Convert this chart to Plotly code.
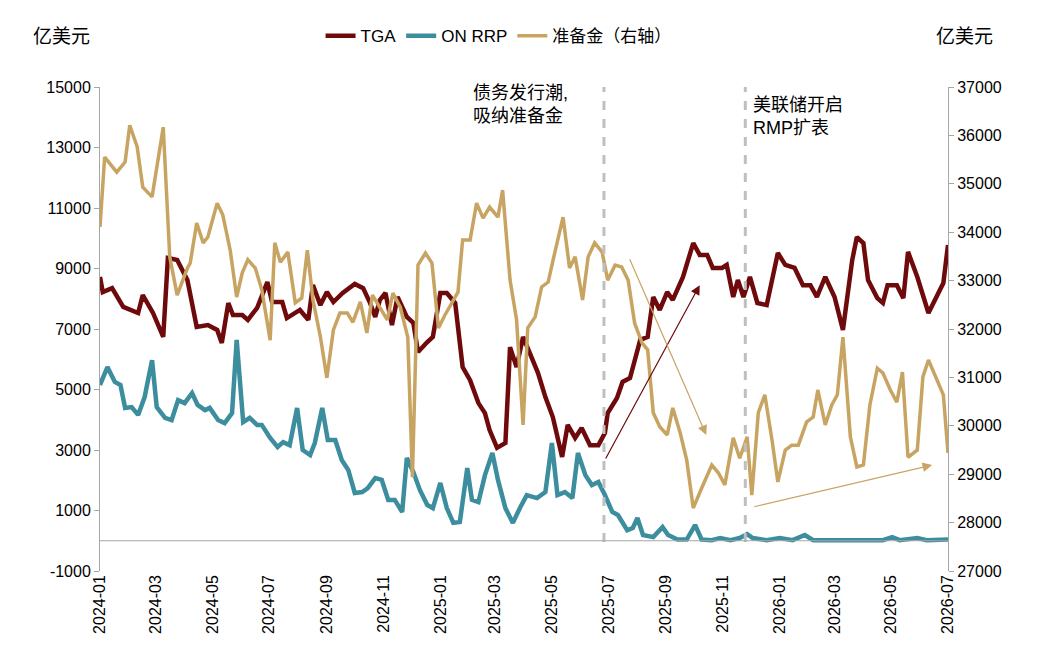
import pandas as pd
import plotly.graph_objects as go

BASE = pd.Timestamp("2024-01-01")

# day offsets from 2024-01-01 and values (亿美元)
tga_days = [0,3,13,25,41,46,57,68,73,83,94,104,116,126,131,138,143,153,159,169,180,185,196,201,215,224,229,237,244,251,261,274,283,290,296,301,307,314,320,330,337,342,352,358,366,373,382,390,398,407,414,419,427,436,441,448,455,462,471,479,487,497,503,511,518,527,536,543,546,556,562,570,581,589,595,602,610,616,627,638,645,653,659,669,674,681,686,692,699,707,717,729,737,747,756,764,771,780,790,799,809,814,821,826,836,842,847,857,864,869,879,891,903,907,912]
tga_vals = [8720,8220,8350,7730,7530,8120,7530,6740,9350,9280,8620,7070,7130,6970,6540,7860,7460,7460,7300,7700,8550,7890,7890,7360,7630,7300,8450,7790,8220,7890,8190,8490,8350,7890,7400,7960,8190,7130,8060,7400,7200,6240,6570,6740,8190,8190,7860,5740,5310,4550,4220,3660,3070,3230,6400,5740,6740,6210,5550,4750,4090,2770,3830,3400,3730,3160,3160,3560,4220,4720,5250,5380,6640,6740,8060,7630,8220,7960,8720,9840,9450,9450,9020,9020,9120,8060,8620,8060,8720,7860,7790,9510,9120,9020,8450,8450,8060,8720,8060,6970,9280,10040,9840,8620,8020,7860,8450,8450,8020,9550,8720,7530,8220,8520,9780]

rrp_days = [0,8,16,22,27,34,41,48,56,61,70,77,84,91,99,105,113,118,127,134,142,147,154,161,169,174,183,191,197,204,212,218,226,231,239,245,253,260,267,274,282,288,296,303,310,317,325,330,337,344,352,358,366,373,380,387,395,400,407,414,422,428,436,444,452,459,470,479,486,492,500,508,514,522,529,536,543,551,557,567,573,578,584,595,605,611,621,631,640,647,658,667,678,688,696,702,717,731,745,758,767,810,842,852,860,879,889,912]
rrp_vals = [5150,5740,5250,5150,4390,4420,4160,4750,5970,4420,4060,3990,4650,4550,4880,4490,4320,4390,3990,3890,4220,6640,3920,4060,3830,3830,3400,3100,3260,3160,4390,3000,2830,3230,4390,3330,3330,2670,2340,1580,1610,1740,2070,2010,1350,1350,950,2740,2270,1680,1180,1080,1910,1080,590,620,2400,1350,1280,2170,2900,2010,1080,590,1110,1510,1410,1610,3230,1510,1610,1410,2900,2170,1840,1940,1510,950,850,350,420,750,190,120,450,190,40,40,520,40,20,90,20,90,220,90,20,90,20,190,20,20,20,120,20,90,20,40]

res_days = [0,5,18,27,32,40,46,56,68,75,83,94,97,104,111,116,126,132,140,147,153,159,167,174,183,188,194,202,210,217,223,229,237,244,251,258,266,272,280,287,293,299,309,315,323,331,336,342,350,357,364,371,379,385,390,398,405,412,419,428,433,441,448,455,460,468,475,482,489,498,505,511,519,525,532,540,546,554,561,568,575,583,589,595,602,610,616,624,631,638,647,658,665,672,681,688,696,701,708,715,723,729,737,744,751,760,767,772,780,787,793,799,807,814,821,828,836,842,850,857,863,869,879,885,891,900,907,912]
res_vals = [34110,35550,35240,35450,36210,35760,34930,34730,36170,33490,32700,33260,33360,34190,33780,33900,34600,34360,33630,32660,33160,33430,33260,32810,31770,33780,33380,33590,32540,32640,33630,32600,31840,30990,31980,32330,32330,32140,32560,31920,32700,32500,32190,32740,32450,31830,28940,33320,33570,33360,32020,32290,32540,32760,33840,33840,34600,34290,34520,34310,34870,33010,32190,30020,32020,32250,32870,32970,33570,34310,33260,33490,32600,33490,33780,33590,33010,33320,33280,33010,32120,31710,31570,30270,29980,29810,30370,29850,29290,28300,28710,29190,29030,28780,29750,29330,29770,28570,30270,30640,29670,28840,29500,29600,29600,30080,30180,30740,30020,30430,30640,31830,29770,29150,29190,30430,31190,31090,30740,30490,31110,29350,29500,31010,31360,30950,30640,29440]

left_ticks = list(range(-1000, 15001, 2000))
right_ticks = list(range(27000, 37001, 1000))

def to_dates(days):
    return [BASE + pd.Timedelta(days=d) for d in days]

C_TGA = "#6E0A0C"
C_RRP = "#3C8D9E"
C_RES = "#C8A463"
FONT = "Liberation Sans, Noto Sans CJK SC, sans-serif"

fig = go.Figure()
fig.add_trace(go.Scatter(x=to_dates(tga_days), y=tga_vals, name="TGA", mode="lines",
                         line=dict(color=C_TGA, width=4.5)))
fig.add_trace(go.Scatter(x=to_dates(rrp_days), y=rrp_vals, name="ON RRP", mode="lines",
                         line=dict(color=C_RRP, width=4.5)))
fig.add_trace(go.Scatter(x=to_dates(res_days), y=res_vals, name="准备金（右轴）", mode="lines",
                         line=dict(color=C_RES, width=3.5), yaxis="y2"))

for d in ["2025-06-26", "2025-11-25"]:
    fig.add_shape(type="line", xref="x", yref="paper", x0=d, x1=d, y0=0.06, y1=1,
                  line=dict(color="#BFBFBF", width=3, dash="dash"))
fig.add_shape(type="line", xref="paper", yref="y", x0=0, x1=1, y0=0, y1=0,
              line=dict(color="#A6A6A6", width=1))

fig.add_annotation(x="2025-10-07", y=8450, ax="2025-06-27", ay=2670, xref="x", yref="y",
                   axref="x", ayref="y", showarrow=True, arrowhead=2, arrowsize=1.6,
                   arrowwidth=1.2, arrowcolor=C_TGA, text="")
fig.add_annotation(x="2025-10-14", y=29810, ax="2025-07-23", ay=33470, xref="x", yref="y2",
                   axref="x", ayref="y2", showarrow=True, arrowhead=2, arrowsize=1.6,
                   arrowwidth=1.2, arrowcolor=C_RES, text="")
fig.add_annotation(x="2026-06-14", y=29190, ax="2025-12-03", ay=28320, xref="x", yref="y2",
                   axref="x", ayref="y2", showarrow=True, arrowhead=2, arrowsize=1.6,
                   arrowwidth=1.2, arrowcolor=C_RES, text="")

fig.add_annotation(x="2025-02-03", y=15000, xref="x", yref="y", text="债务发行潮,<br>吸纳准备金",
                   showarrow=False, xanchor="left", yanchor="top", align="left", yshift=6,
                   font=dict(size=18, color="#000"))
fig.add_annotation(x="2025-12-01", y=14800, xref="x", yref="y", text="美联储开启<br>RMP扩表",
                   showarrow=False, xanchor="left", yanchor="top", align="left",
                   font=dict(size=18, color="#000"))
fig.add_annotation(x=-0.045, y=1.105, xref="paper", yref="paper", text="亿美元", showarrow=False,
                   xanchor="center", yanchor="middle", font=dict(size=19, color="#000"))
fig.add_annotation(x=1.02, y=1.105, xref="paper", yref="paper", text="亿美元", showarrow=False,
                   xanchor="center", yanchor="middle", font=dict(size=19, color="#000"))

fig.update_layout(
    width=1050, height=649,
    margin=dict(l=92, r=110, t=79, b=86, autoexpand=False),
    plot_bgcolor="white", paper_bgcolor="white",
    font=dict(family=FONT, size=16, color="#000"),
    showlegend=True,
    legend=dict(orientation="h", x=0.47, xanchor="center", y=1.105, yanchor="middle",
                font=dict(size=17)),
    xaxis=dict(range=["2024-01-01", "2026-07-01"], tickformat="%Y-%m", dtick="M2",
               tick0="2024-01-01", tickangle=-90, showgrid=False, showline=False,
               ticks="", zeroline=False),
    yaxis=dict(range=[-1000, 15000], tickvals=left_ticks, ticktext=[str(v) for v in left_ticks],
               showgrid=False, showline=True, linecolor="#A6A6A6", ticks="outside",
               ticklen=5, tickcolor="#A6A6A6", zeroline=False),
    yaxis2=dict(range=[27000, 37000], tickvals=right_ticks, ticktext=[str(v) for v in right_ticks],
                overlaying="y", side="right", showgrid=False, showline=True,
                linecolor="#A6A6A6", ticks="outside", ticklen=5, tickcolor="#A6A6A6",
                zeroline=False),
)

fig.write_html("out.html")
